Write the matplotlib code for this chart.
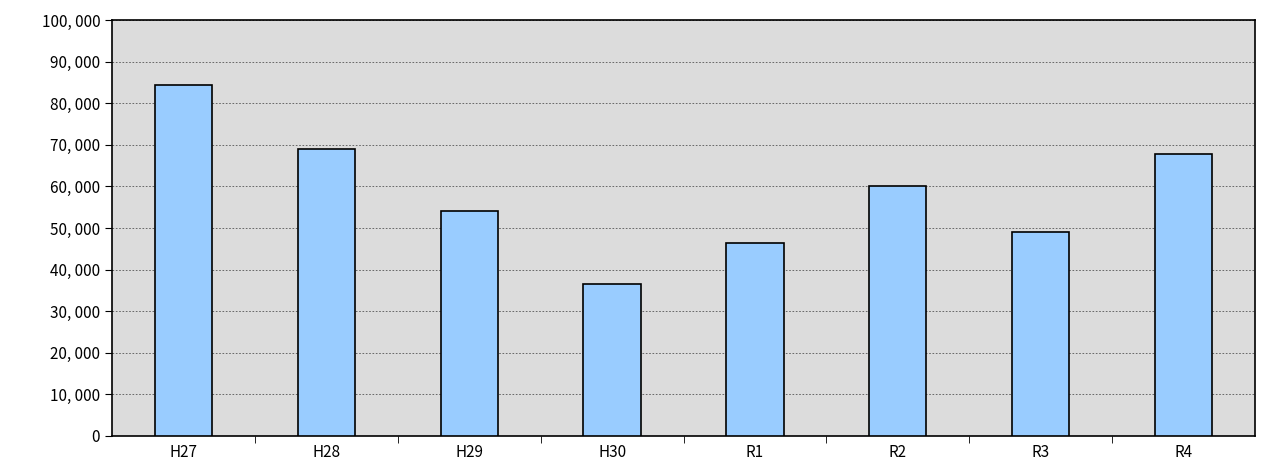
import matplotlib
matplotlib.use("Agg")
import matplotlib.pyplot as plt
from matplotlib.ticker import FuncFormatter, FixedLocator

categories = ["H27", "H28", "H29", "H30", "R1", "R2", "R3", "R4"]
values = [84400, 69000, 54100, 36500, 46400, 60100, 49000, 67800]

plt.rcParams['font.family'] = ['Noto Sans CJK JP', 'DejaVu Sans']
fig = plt.figure(figsize=(12.63, 4.68), dpi=100)
ax = fig.add_axes([112/1263, 32/468, 1143/1263, 416/468])
ax.set_facecolor("#dcdcdc")
x = list(range(len(categories)))
ax.bar(x, values, width=0.4, color="#99ccff", edgecolor="black", linewidth=1.2, zorder=3)
ax.set_xlim(-0.5, len(categories) - 0.5)
ax.set_ylim(0, 100000)
ax.set_yticks(range(0, 100001, 10000))
ax.yaxis.set_major_formatter(FuncFormatter(lambda v, p: f"{int(v):,}".replace(",", ", ")))
ax.yaxis.grid(True, linestyle=(0, (2, 2)), color="#555555", linewidth=0.6, zorder=1)
ax.set_xticks(x)
ax.set_xticklabels(categories)
ax.xaxis.set_minor_locator(FixedLocator([i + 0.5 for i in range(len(categories) - 1)]))
ax.tick_params(axis="x", which="major", length=0, labelsize=11, pad=6)
ax.tick_params(axis="x", which="minor", length=5, direction="out")
ax.tick_params(axis="y", labelsize=11, length=5)
for s in ax.spines.values():
    s.set_linewidth(1.2)
fig.savefig("out.png", dpi=100)
